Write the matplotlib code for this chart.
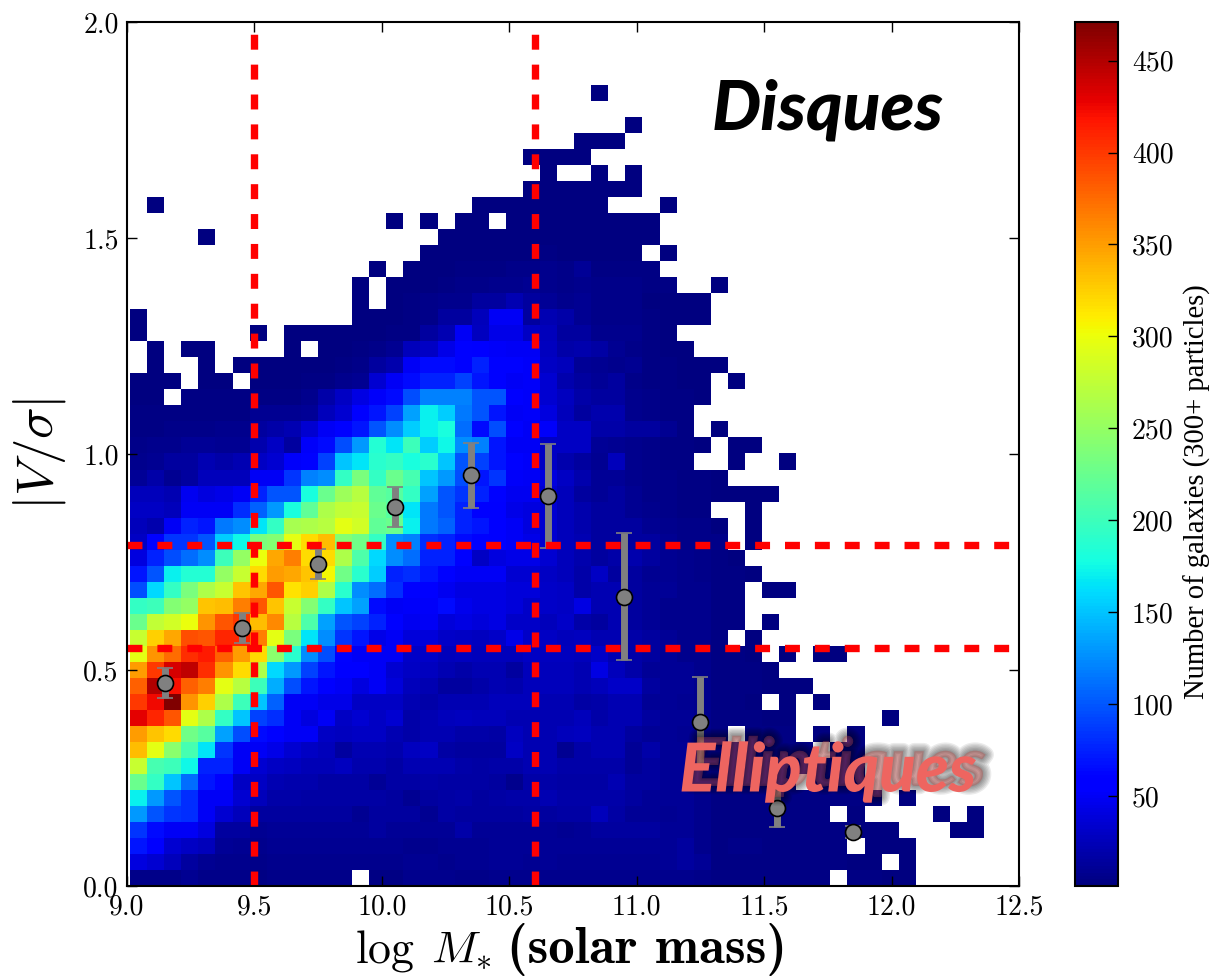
import numpy as np
import matplotlib
matplotlib.use('Agg')
import matplotlib.pyplot as plt
import matplotlib.patheffects as pe

# number of galaxies per cell, one list per row, bottom row first (0 = empty)
counts = [
    [6,6,6,10,6,5,5,4,5,5,5,5,5,0,4,4, 8,7,8,6,6,8,8,8,8,7,8,8,8,8,8,7,8,6, 4,4,3,3,3,3,3,0,3,3,2,2],
    [40,35,25,15,10,8,8,6,8,8,8,8,8,8,8,8, 10,10,8,10,10,12,12,10,12,10,10,10,10,10,10,12,14,12, 4,4,3,3,3,3,3,3,2,2,0,2],
    [70,55,35,30,25,12,10,8,10,10,10,10,10,10,10,10, 8,8,10,10,10,12,12,12,12,12,12,12,12,12,12,12,15,8, 4,5,5,3,3,3,3,3,0,2,2,2],
    [85,65,50,50,40,15,15,10,12,12,12,12,12,12,14,12, 12,12,12,18,12,12,12,12,12,10,12,15,15,15,15,12,12,8, 4,4,3,3,3,3,3,3,2,2,2,0,0,0,1,1],
    [130,100,85,80,50,35,25,15,15,15,14,14,14,10,14,14, 14,10,16,14,14,14,14,16,14,16,16,25,16,12,12,10,12,8, 4,4,3,3,3,3,3,0,2,0,0,0,0,1,0,1],
    [170,130,100,80,50,50,35,25,18,18,16,16,16,16,16,14, 10,14,16,18,14,16,18,18,22,18,18,18,18,15,12,12,12,8, 4,3,3,3,3,3,3,3,3,2,0,1],
    [225,195,150,110,70,60,30,30,22,20,20,16,16,16,12,16, 16,18,16,16,16,14,8,18,18,16,16,16,22,15,15,12,12,8, 4,3,3,3,3,0,3,3,2],
    [280,205,200,175,75,75,50,35,30,28,24,24,28,20,20,16, 22,22,22,18,16,18,18,22,22,18,18,18,18,12,15,12,12,8, 3,3,3,3,3,3,3,3,2],
    [335,295,245,205,165,85,50,50,45,35,30,25,15,22,22,20, 28,30,16,14,14,14,30,22,22,10,18,22,22,12,18,12,12,8, 3,3,3,3,3,3,0,2,2],
    [350,330,320,230,215,135,95,65,60,50,50,30,28,30,30,22, 18,22,22,18,18,16,28,22,22,25,28,22,22,15,12,12,10,8, 3,0,3,3,3,0,2,0,2],
    [430,410,385,295,265,195,150,90,80,50,40,50,30,35,30,35, 18,22,25,28,25,25,22,22,22,22,25,18,22,22,15,12,12,8, 3,3,3,2,2,0,0,0,0,0,1],
    [400,425,470,355,325,265,200,150,105,50,50,45,45,30,30,30, 22,18,22,22,22,25,25,25,22,22,16,18,22,22,12,12,10,8, 3,3,2,0,2,0,1],
    [380,450,420,380,365,295,270,200,140,95,70,55,50,40,50,38, 25,22,14,14,18,22,20,25,25,25,22,25,32,32,15,12,12,8, 3,3,3,2,2,2],
    [350,400,435,445,405,355,320,265,160,130,90,70,55,55,50,35, 30,28,22,18,22,22,14,25,25,25,22,42,25,18,12,12,12,8, 4,4,3,2],
    [295,355,375,405,415,380,350,320,245,190,125,95,60,50,50,50, 32,32,25,28,25,25,25,30,28,28,25,32,22,18,15,12,8,8, 3,3,2,0,1,0,1,1],
    [280,325,345,390,385,410,410,365,295,235,165,125,85,70,45,50, 38,38,32,30,28,32,45,32,30,25,28,22,22,18,15,12,8,8, 4,0,2],
    [225,275,285,300,355,385,400,335,360,270,210,135,100,90,75,60, 48,50,38,42,38,42,32,32,25,32,18,15,22,15,12,8,8,8, 3,3,0,1],
    [195,200,240,250,330,335,365,385,330,280,240,195,150,135,65,50, 52,52,65,46,42,42,38,32,32,30,42,22,22,15,12,8,8,8, 4,3],
    [95,160,195,235,265,280,330,345,385,315,325,265,190,125,110,80, 60,55,48,42,42,42,38,38,32,30,18,22,22,15,12,12,8,8, 3,3,0,1,1],
    [70,100,170,185,185,250,280,320,350,345,330,305,230,190,155,75, 80,70,60,50,50,50,35,35,30,25,18,30,15,15,10,10,8,6, 3,3,2],
    [40,75,95,110,125,200,250,300,345,365,320,320,265,210,160,125, 110,75,75,60,30,40,45,45,35,25,20,15,18,20,15,10,8,5, 3,2],
    [30,60,85,85,100,155,175,235,240,295,320,335,240,230,195,125, 120,80,75,65,60,55,50,45,35,25,22,15,15,15,15,10,6,6, 5,0,1],
    [25,20,50,75,70,115,125,165,195,260,265,270,295,285,220,225, 170,115,105,75,70,55,50,40,35,25,20,15,15,15,10,8,6,5, 2,0,1],
    [30,30,25,50,50,50,80,105,130,180,220,265,275,280,225,215, 165,115,100,75,55,55,45,40,35,25,20,15,15,10,8,6,4,3, 0,0,1],
    [25,25,22,48,40,45,50,75,100,100,180,225,255,270,220,215, 195,135,100,85,75,60,48,48,35,25,15,12,15,10,6,5,4,4, 2,2,2,1],
    [12,18,10,15,25,25,25,50,50,85,120,125,195,235,195,225, 205,150,130,95,70,85,52,50,40,30,20,12,12,8,5,5,4,4, 1],
    [8,10,15,15,22,18,22,30,35,52,60,90,150,165,190,195, 180,190,150,100,90,70,60,52,30,20,15,10,25,8,5,4,3,0, 0,1,0,0,1],
    [5,8,8,12,12,10,10,20,30,15,52,65,95,130,185,165, 200,155,175,125,120,70,50,50,30,30,30,12,10,8,5,4,3,2, 0,1,1],
    [4,4,5,5,5,8,8,15,18,22,35,50,60,70,100,125, 155,170,180,110,65,95,60,50,52,30,30,18,18,14,14,10,3,0, 1],
    [3,3,3,4,4,4,4,10,10,10,12,25,35,55,70,90, 135,170,155,115,100,70,50,52,40,25,15,20,20,8,6,4,3,0],
    [2,2,0,3,3,3,3,4,4,4,8,18,30,42,52,65, 95,120,120,120,100,100,55,52,35,28,18,15,15,8,6,4,3,2],
    [2,2,2,0,2,2,0,2,2,2,3,3,8,10,35,50, 65,75,75,90,70,60,50,52,35,20,15,12,15,5,3,3,2,2, 0,1],
    [0,2,0,0,2,0,2,2,2,2,2,2,3,5,15,20, 50,65,65,60,75,60,60,52,30,25,12,10,8,10,3,3,1,1, 1],
    [0,2,0,2,2,0,0,0,0,2,0,2,2,3,6,10, 25,30,45,60,55,52,50,50,28,18,20,16,10,6,3,2,1],
    [2,0,0,0,0,0,0,2,0,2,2,2,2,2,2,3, 4,15,22,50,28,45,45,30,25,14,14,7,7,7,3,2],
    [2,0,0,0,0,0,0,0,0,0,0,0,0,2,2,2, 3,6,15,15,25,50,50,15,22,18,10,5,5,5,3,2,2,2],
    [0,0,0,0,0,0,0,0,0,0,0,0,0,1,0,1, 4,5,8,8,14,14,22,15,12,8,10,5,5,5,2,2,2,2],
    [0,0,0,0,0,0,0,0,0,0,0,0,0,1,0,1, 2,2,3,6,6,8,8,10,8,6,8,5,6,6,3,3,0,0, 1],
    [0,0,0,0,0,0,0,0,0,0,0,0,0,0,1,0, 2,2,2,3,3,4,5,6,8,5,12,4,4,4,3],
    [0,0,0,0,0,0,0,0,0,0,0,0,0,0,0,0, 0,1,1,1,1,2,2,2,3,2,2,2,2,1,0,1],
    [0,0,0,0,1,0,0,0,0,0,0,0,0,0,0,0, 0,0,1,1,1,1,1,1,2,2,1,1,1,1,1],
    [0,0,0,0,0,0,0,0,0,0,0,0,0,0,0,1, 0,1,0,1,1,0,1,1,1,1,1,1,1,1,1],
    [0,1,0,0,0,0,0,0,0,0,0,0,0,0,0,0, 0,0,0,0,1,1,1,1,1,1,1,1,0,0,0,1],
    [0,0,0,0,0,0,0,0,0,0,0,0,0,0,0,0, 0,0,0,0,0,0,0,1,1,1,1,1,1,1],
    [0,0,0,0,0,0,0,0,0,0,0,0,0,0,0,0, 0,0,0,0,0,0,0,0,1,0,0,1,0,1],
    [0,0,0,0,0,0,0,0,0,0,0,0,0,0,0,0, 0,0,0,0,0,0,0,1,1,1,1],
    [0,0,0,0,0,0,0,0,0,0,0,0,0,0,0,0, 0,0,0,0,0,0,0,0,0,0,1,1,1],
    [0,0,0,0,0,0,0,0,0,0,0,0,0,0,0,0, 0,0,0,0,0,0,0,0,0,0,0,0,0,1],
    [],
    [0,0,0,0,0,0,0,0,0,0,0,0,0,0,0,0, 0,0,0,0,0,0,0,0,0,0,0,1],
]

# medians with their scatter
mass_bins = [9.15, 9.45, 9.75, 10.05, 10.35, 10.65, 10.95, 11.25, 11.55, 11.85]
median_vs = [0.47, 0.597, 0.745, 0.877, 0.951, 0.903, 0.669, 0.38, 0.18, 0.125]
scatter = [0.034, 0.034, 0.035, 0.047, 0.075, 0.12, 0.147, 0.104, 0.043, 0.015]

mass_cuts = [9.5, 10.6]
vs_cuts = [0.55, 0.79]
cbar_ticks = [50, 100, 150, 200, 250, 300, 350, 400, 450]

W, H = 1225, 977
plt.rcParams['font.family'] = 'cmr10'
plt.rcParams['mathtext.fontset'] = 'cm'
plt.rcParams['axes.unicode_minus'] = False

fig = plt.figure(figsize=(W / 100, H / 100), dpi=100)
ax = fig.add_axes([127 / W, 1 - 886 / H, 892 / W, 864 / H])
cax = fig.add_axes([1075 / W, 1 - 886 / H, 43 / W, 864 / H])

grid = np.zeros((50, 50))
for j, row in enumerate(counts):
    grid[j, :len(row)] = row
grid = np.ma.masked_equal(grid, 0)

x_edges = np.linspace(9.012, 12.363, 51)
y_edges = np.linspace(0, 1.854, 51)
mesh = ax.pcolormesh(x_edges, y_edges, grid, cmap='jet', vmin=1, vmax=471, zorder=1)

ax.errorbar(mass_bins, median_vs, yerr=scatter, fmt='o', ms=11.5, mfc='gray', mec='black', mew=1.2,
            ecolor='gray', elinewidth=5, capsize=5.5, capthick=1.2, zorder=3)

for c in mass_cuts:
    ax.plot([c, c], [0, 1.985], color='red', lw=5.3, dashes=(2.03, 2.03), zorder=4)
for c in vs_cuts:
    ax.plot([9, 12.5], [c, c], color='red', lw=5.3, dashes=(2.03, 2.03), zorder=4)

ax.set_xlim(9, 12.5)
ax.set_ylim(0, 2)
ax.set_xticks([9, 9.5, 10, 10.5, 11, 11.5, 12, 12.5])
ax.set_xticklabels(['9.0', '9.5', '10.0', '10.5', '11.0', '11.5', '12.0', '12.5'])
ax.set_yticks([0, 0.5, 1, 1.5, 2])
ax.set_yticklabels(['0.0', '0.5', '1.0', '1.5', '2.0'])
ax.tick_params(direction='in', length=7, width=1, top=True, right=True, labelsize=20, pad=6)
for s in ax.spines.values():
    s.set_linewidth(1.5)
    s.set_zorder(6)

fig.text(492 / W, 1 - 963 / H, r'$\log\;M_{*}$', fontsize=33, ha='right', va='baseline')
fig.text(507 / W, 1 - 963 / H, '(solar mass)', family='cmb10', fontsize=38, ha='left', va='baseline')
ax.set_ylabel(r'$|V/\sigma|$', fontsize=38, labelpad=11)

ax.text(828 / W, 1 - 110 / H, 'Disques', transform=fig.transFigure, family='Lato', style='italic',
        weight='black', fontsize=50, color='black', ha='center', va='center', zorder=7)
shadow = [pe.Stroke(linewidth=lw, foreground='black', alpha=0.08, offset=(7, 4)) for lw in (12, 10, 8, 6, 4, 2)]
ax.text(828 / W, 1 - 772 / H, 'Elliptiques', transform=fig.transFigure, family='Lato', style='italic',
        weight='black', fontsize=48.5, color='#ee6560', ha='center', va='center', zorder=7,
        path_effects=shadow + [pe.Normal()])

cbar = fig.colorbar(mesh, cax=cax, ticks=cbar_ticks)
cbar.ax.tick_params(direction='in', length=7, width=1, labelsize=20, pad=10)
cbar.outline.set_linewidth(1.5)
cbar.set_label('Number of galaxies (300+ particles)', family='Liberation Serif', fontsize=20.6)
cbar.ax.yaxis.set_label_coords((1184 - 1075) / 43, (886 - 492) / 864)

fig.savefig('out.png', dpi=100)
